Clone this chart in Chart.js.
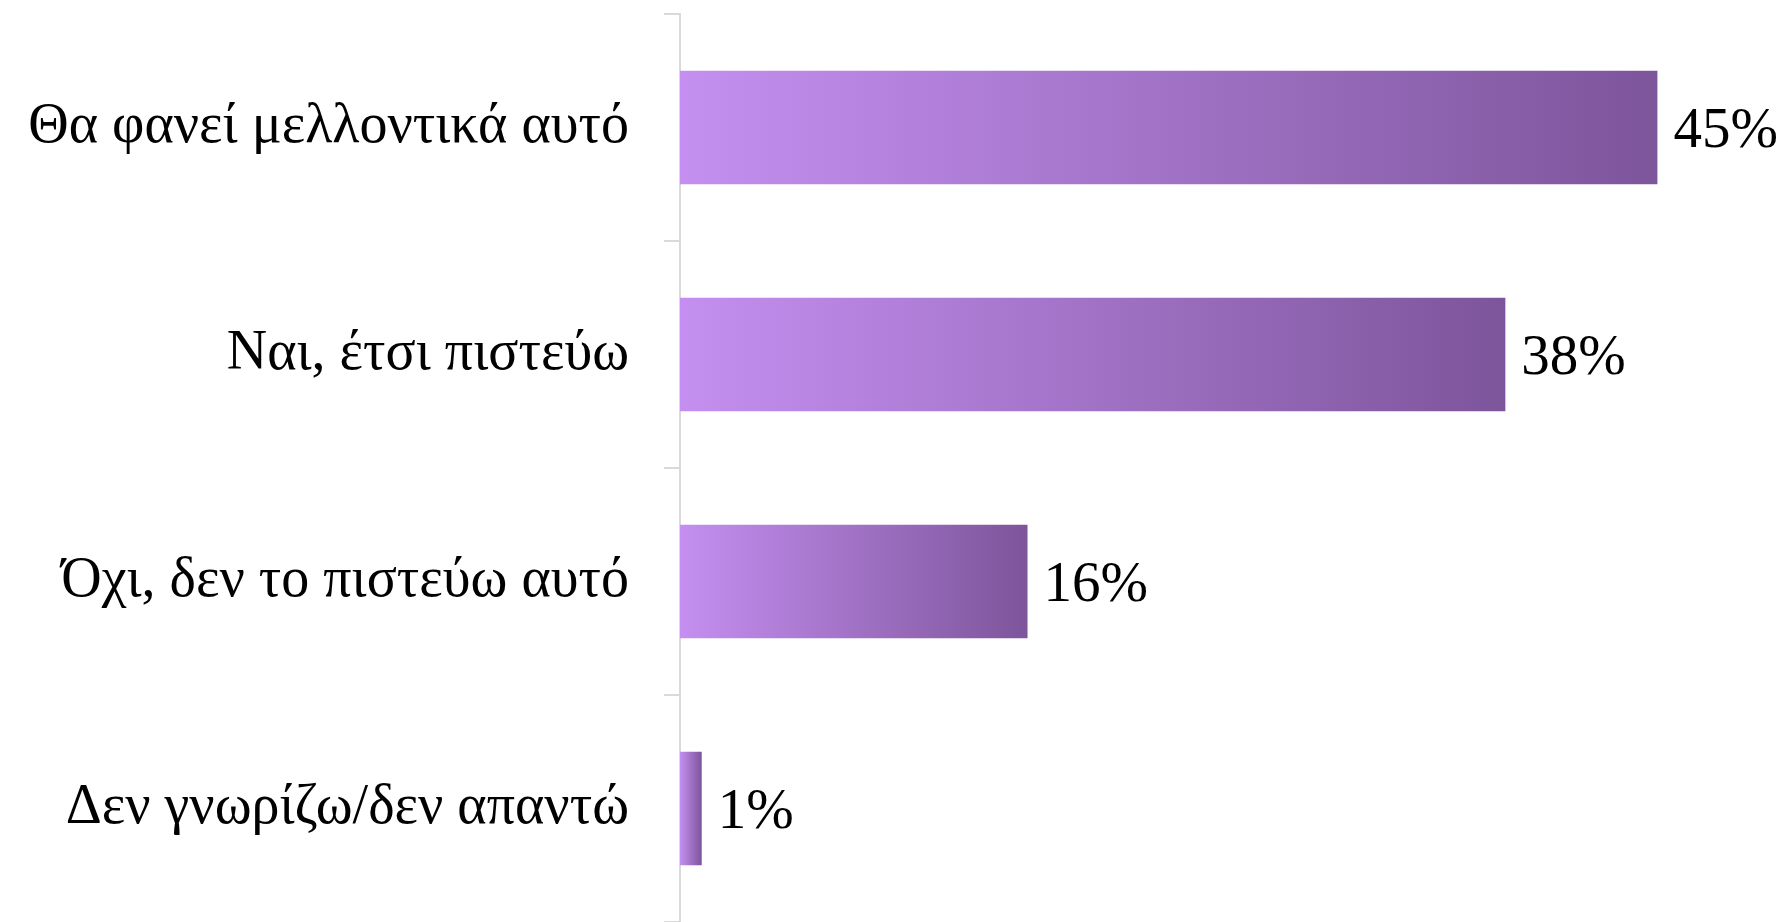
<!DOCTYPE html>
<html>
<head>
<meta charset="utf-8">
<script src="https://cdn.jsdelivr.net/npm/chart.js@4"></script>
<style>
    html, body { margin: 0; padding: 0; background: #ffffff; }
    #wrap { width: 1789px; height: 922px; }
</style>
</head>
<body>
<div id="wrap"><canvas id="chartCanvas"></canvas></div>
<script>
    // dữ liệu
    const categories = ['Θα φανεί μελλοντικά αυτό', 'Ναι, έτσι πιστεύω', 'Όχι, δεν το πιστεύω αυτό', 'Δεν γνωρίζω/δεν απαντώ'];
    const percentValues = [45, 38, 16, 1];
    const valueLabels = ['45%', '38%', '16%', '1%'];

    const fontFamily = '"Liberation Serif", "DejaVu Serif", serif';

    // gradient riêng cho từng thanh
    function barGradient(ctx) {
        const chart = ctx.chart;
        if (!chart.chartArea) return '#a070c8';
        const x0 = chart.scales.x.getPixelForValue(0);
        const x1 = chart.scales.x.getPixelForValue(ctx.raw);
        const g = chart.ctx.createLinearGradient(x0, 0, Math.max(x1, x0 + 1), 0);
        g.addColorStop(0, '#c48ff0');
        g.addColorStop(1, '#7d559b');
        return g;
    }

    const valueLabelPlugin = {
        id: 'valueLabels',
        afterDatasetsDraw(chart) {
            const c = chart.ctx;
            const meta = chart.getDatasetMeta(0);
            c.save();
            c.font = '57px ' + fontFamily;
            c.fillStyle = '#000000';
            c.textAlign = 'left';
            c.textBaseline = 'middle';
            meta.data.forEach(function (bar, i) {
                c.fillText(valueLabels[i], bar.x + 16, bar.y + 5);
            });
            c.restore();
        }
    };

    const ctx = document.getElementById('chartCanvas');

    const chart = new Chart(ctx, {
        type: 'bar',
        data: {
            labels: categories,
            datasets: [{
                data: percentValues,
                backgroundColor: barGradient,
                borderWidth: 0,
                categoryPercentage: 1,
                barPercentage: 0.5
            }]
        },
        plugins: [valueLabelPlugin],
        options: {
            indexAxis: 'y',
            responsive: true,
            maintainAspectRatio: false,
            animation: false,
            layout: { padding: { top: 14, right: 23, bottom: 0, left: 0 } },
            plugins: {
                legend: { display: false },
                tooltip: { enabled: false }
            },
            scales: {
                x: {
                    display: false,
                    min: 0,
                    max: 50
                },
                y: {
                    afterFit: function (scale) {
                        scale.width = 680;
                        scale.paddingTop = 0;
                        scale.paddingBottom = 0;
                    },
                    grid: {
                        drawOnChartArea: false,
                        drawTicks: true,
                        tickLength: 16,
                        color: '#d9d9d9',
                        lineWidth: 2
                    },
                    border: { color: '#d9d9d9', width: 2 },
                    ticks: {
                        padding: 35,
                        color: '#000000',
                        font: { family: fontFamily, size: 56 }
                    }
                }
            }
        }
    });
</script>
</body>
</html>
